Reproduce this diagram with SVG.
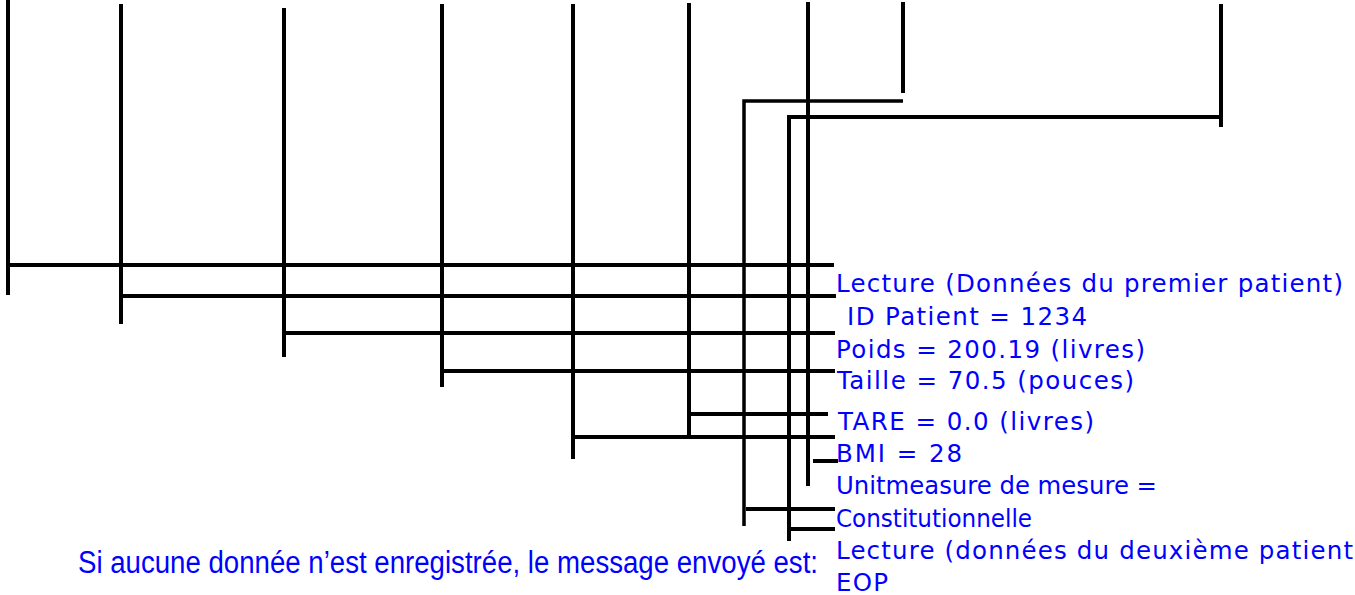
<svg xmlns="http://www.w3.org/2000/svg" width="1355" height="595" viewBox="0 0 1355 595">
<style>
.ln{stroke:#000;stroke-width:4;fill:none;stroke-linecap:butt}
.thin{stroke-width:3.5}
.t{font-family:"DejaVu Sans",Verdana,sans-serif;font-size:24.5px;fill:#0000FF}
.n{font-family:"Liberation Sans",Arial,sans-serif;font-size:31px;fill:#0000FF}
</style>
<rect width="1355" height="595" fill="#fff"/>
<g id="connectors">
<line class="ln" x1="8" y1="0" x2="8" y2="295"/>
<line class="ln" x1="121" y1="4" x2="121" y2="324"/>
<line class="ln" x1="284" y1="8" x2="284" y2="357"/>
<line class="ln" x1="442" y1="4" x2="442" y2="387"/>
<line class="ln" x1="573" y1="4" x2="573" y2="459"/>
<line class="ln" x1="689" y1="3" x2="689" y2="437"/>
<line class="ln" x1="808" y1="2" x2="808" y2="486"/>
<line class="ln" x1="903" y1="2" x2="903" y2="93"/>
<line class="ln" x1="1221" y1="4" x2="1221" y2="127"/>
<polyline class="ln thin" points="903,101 744,101 744,526"/>
<polyline class="ln" points="1221,117 789,117 789,541"/>
<line class="ln" x1="8" y1="265" x2="834" y2="265"/>
<line class="ln" x1="121" y1="296" x2="836" y2="296"/>
<line class="ln" x1="284" y1="333" x2="835" y2="333"/>
<line class="ln" x1="442" y1="371" x2="835" y2="371"/>
<line class="ln" x1="689" y1="414" x2="828" y2="414"/>
<line class="ln" x1="573" y1="437" x2="835" y2="437"/>
<line class="ln" x1="813" y1="461" x2="838" y2="461"/>
<line class="ln" x1="746" y1="509" x2="835" y2="509"/>
<line class="ln" x1="789" y1="529" x2="835" y2="529"/>
</g>
<g id="n1"><text class="t" x="836" y="292" textLength="507" lengthAdjust="spacing">Lecture (Données du premier patient)</text></g>
<g id="n2"><text class="t" x="847" y="325" textLength="240" lengthAdjust="spacing">ID Patient = 1234</text></g>
<g id="n3"><text class="t" x="836" y="358" textLength="309" lengthAdjust="spacing">Poids = 200.19 (livres)</text></g>
<g id="n4"><text class="t" x="837" y="389" textLength="297" lengthAdjust="spacing">Taille = 70.5 (pouces)</text></g>
<g id="n5"><text class="t" x="838" y="430" textLength="256" lengthAdjust="spacing">TARE = 0.0 (livres)</text></g>
<g id="n6"><text class="t" x="836" y="462" textLength="126" lengthAdjust="spacing">BMI = 28</text></g>
<g id="n7"><text class="t" x="836" y="494" textLength="321" lengthAdjust="spacingAndGlyphs">Unitmeasure de mesure =</text></g>
<g id="n8"><text class="t" x="836" y="527" textLength="196" lengthAdjust="spacingAndGlyphs">Constitutionnelle</text></g>
<g id="n9"><text class="t" x="836" y="559" textLength="517" lengthAdjust="spacing">Lecture (données du deuxième patient</text></g>
<g id="n10"><text class="t" x="836" y="591" textLength="52" lengthAdjust="spacing">EOP</text></g>
<g id="note"><text class="n" x="78" y="573" textLength="740" lengthAdjust="spacingAndGlyphs">Si aucune donnée n’est enregistrée, le message envoyé est:</text></g>
</svg>
